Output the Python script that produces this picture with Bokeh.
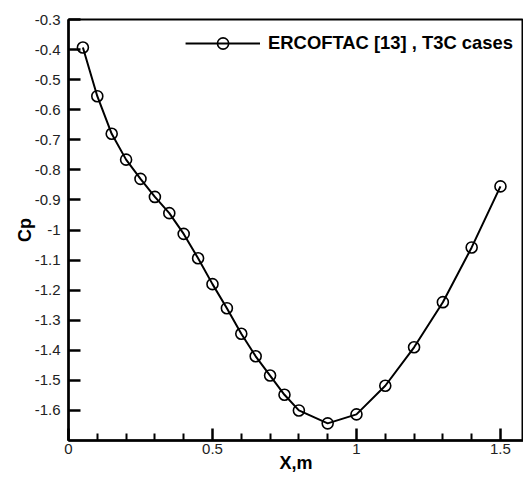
from bokeh.plotting import figure
from bokeh.models import Range1d, Legend, LegendItem, FixedTicker
from bokeh.embed import file_html
from bokeh.resources import INLINE

x_m = [0.05, 0.10, 0.15, 0.20, 0.25, 0.30, 0.35, 0.40, 0.45, 0.50, 0.55, 0.60,
       0.65, 0.70, 0.75, 0.80, 0.90, 1.00, 1.10, 1.20, 1.30, 1.40, 1.50]
cp = [-0.393, -0.555, -0.68, -0.766, -0.83, -0.89, -0.944, -1.013, -1.094, -1.18,
      -1.26, -1.345, -1.42, -1.484, -1.548, -1.60, -1.643, -1.613, -1.518, -1.39,
      -1.24, -1.058, -0.855]
x_ticks = [0, 0.5, 1, 1.5]
x_minor = [0.1, 0.2, 0.3, 0.4, 0.6, 0.7, 0.8, 0.9, 1.1, 1.2, 1.3, 1.4]
y_ticks = [-1.6, -1.5, -1.4, -1.3, -1.2, -1.1, -1.0, -0.9, -0.8, -0.7, -0.6, -0.5, -0.4, -0.3]
y_labels = {-1.6: "-1.6", -1.5: "-1.5", -1.4: "-1.4", -1.3: "-1.3", -1.2: "-1.2",
            -1.1: "-1.1", -1.0: "-1", -0.9: "-0.9", -0.8: "-0.8", -0.7: "-0.7",
            -0.6: "-0.6", -0.5: "-0.5", -0.4: "-0.4", -0.3: "-0.3"}
x_labels = {0: "0", 0.5: "0.5", 1: "1", 1.5: "1.5"}
legend_label = "ERCOFTAC [13] , T3C cases"

X0, X1 = 0, 1.58
Y0, Y1 = -1.7, -0.3

p = figure(width=523, height=477, output_backend="svg", toolbar_location=None,
           x_range=Range1d(X0, X1), y_range=Range1d(Y0, Y1),
           min_border_left=68, min_border_top=19, min_border_bottom=37, min_border_right=0)
p.xgrid.visible = False
p.ygrid.visible = False
p.outline_line_color = "black"
p.outline_line_width = 2
p.background_fill_color = "white"
p.border_fill_color = "white"

ln = p.line(x_m, cp, line_color="black", line_width=2)
sc = p.scatter(x_m, cp, marker="circle", size=11, fill_color=None,
               line_color="black", line_width=1.6)

font = "Liberation Sans"
for ax in (p.xaxis[0], p.yaxis[0]):
    ax.axis_line_color = "black"
    ax.axis_line_width = 2.5
    ax.major_tick_line_color = "black"
    ax.minor_tick_line_color = "black"
    ax.major_tick_line_width = 2.5
    ax.minor_tick_line_width = 2
    ax.major_tick_out = 0
    ax.major_tick_in = 12
    ax.minor_tick_out = 0
    ax.minor_tick_in = 7
    ax.major_label_text_font = font
    ax.major_label_text_font_size = "15px"
    ax.major_label_text_color = "#222222"
    ax.axis_label_text_font = font
    ax.axis_label_text_font_style = "bold"
    ax.axis_label_text_font_size = "18px"
    ax.axis_label_text_color = "black"

p.xaxis.ticker = FixedTicker(ticks=x_ticks, minor_ticks=x_minor)
p.xaxis.major_label_overrides = x_labels
p.xaxis.major_label_standoff = 3
p.xaxis.axis_label = "X,m"
p.xaxis.axis_label_standoff = -4

p.yaxis.ticker = FixedTicker(ticks=y_ticks, minor_ticks=[])
p.yaxis.major_label_overrides = y_labels
p.yaxis.major_label_standoff = 8
p.yaxis.axis_label = "Cp"
p.yaxis.axis_label_standoff = -3

legend = Legend(items=[LegendItem(label=legend_label, renderers=[ln, sc])],
                location="top_right", border_line_color=None,
                background_fill_alpha=0, glyph_width=75, glyph_height=28,
                label_standoff=8, label_text_font=font,
                label_text_font_style="bold", label_text_font_size="18.4px",
                label_text_color="black", margin=10, padding=3)
p.add_layout(legend)

open("out.html", "w").write(file_html(p, INLINE))
